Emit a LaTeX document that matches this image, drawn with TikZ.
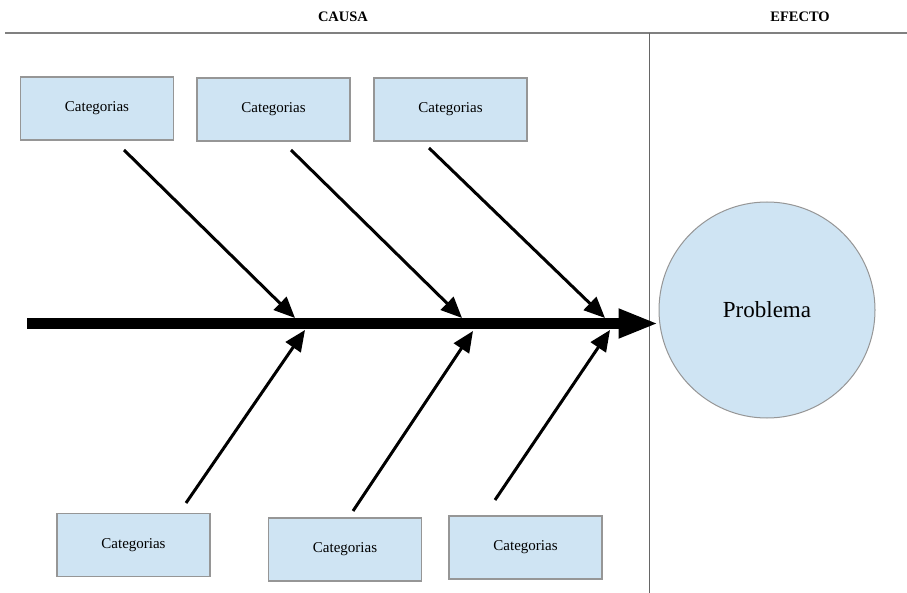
\documentclass[tikz,border=0pt]{standalone}
\usepackage{fontspec}
\setmainfont{Liberation Serif}
\usetikzlibrary{arrows.meta}
\definecolor{boxfill}{RGB}{207,228,243}
\definecolor{boxline}{RGB}{150,150,150}
\newcommand{\cattext}{\raisebox{-2pt}{Categorias}}
\begin{document}
\begin{tikzpicture}[x=1pt,y=-1pt,
  catbox/.style={draw=boxline,line width=1.2pt,fill=boxfill,minimum width=153pt,minimum height=63pt,inner sep=0pt,font=\fontsize{15}{17}\selectfont},
  bone/.style={line width=3pt,-{Triangle[length=21pt,width=18pt]}},
  head/.style={font=\bfseries\fontsize{14.5}{16}\selectfont}]
\useasboundingbox (0,0) rectangle (907,593);
% frame
\draw[gray,line width=1.8pt] (5,33) -- (907,33);
\draw[gray!80!black,line width=1pt] (649,33) -- (649,593);
\node[head] (causa) at (343,17) {CAUSA};
\node[head] (efecto) at (800,17) {EFECTO};
% boxes
\node[catbox] (c1) at (97,108.5) {\cattext};
\node[catbox] (c2) at (273.5,109.5) {\cattext};
\node[catbox] (c3) at (450.5,109.5) {\cattext};
\node[catbox] (c4) at (133.5,545) {\cattext};
\node[catbox] (c5) at (345,549.5) {\cattext};
\node[catbox] (c6) at (525.5,547.5) {\cattext};
% problem
\node[circle,draw=boxline,line width=1pt,fill=boxfill,minimum size=216pt,inner sep=0pt,font=\fontsize{23}{26}\selectfont] (p) at (767,310) {Problema};
% spine
\coordinate (s0) at (27,323.5);
\draw[line width=11pt,-{Triangle[length=40pt,width=27pt]}] (s0) -- (s0 -| p.west);
% bones
\coordinate (t1) at (124,150); \coordinate (e1) at (295,318);
\coordinate (t2) at (291,150); \coordinate (e2) at (462,318);
\coordinate (t3) at (429,148); \coordinate (e3) at (605,318);
\coordinate (b1) at (186,503); \coordinate (f1) at (305,330);
\coordinate (b2) at (353,511); \coordinate (f2) at (473,331);
\coordinate (b3) at (495,500); \coordinate (f3) at (610,330);
\foreach \a/\b in {t1/e1,t2/e2,t3/e3,b1/f1,b2/f2,b3/f3}
  \draw[bone] (\a) -- (\b);
\end{tikzpicture}
\end{document}
